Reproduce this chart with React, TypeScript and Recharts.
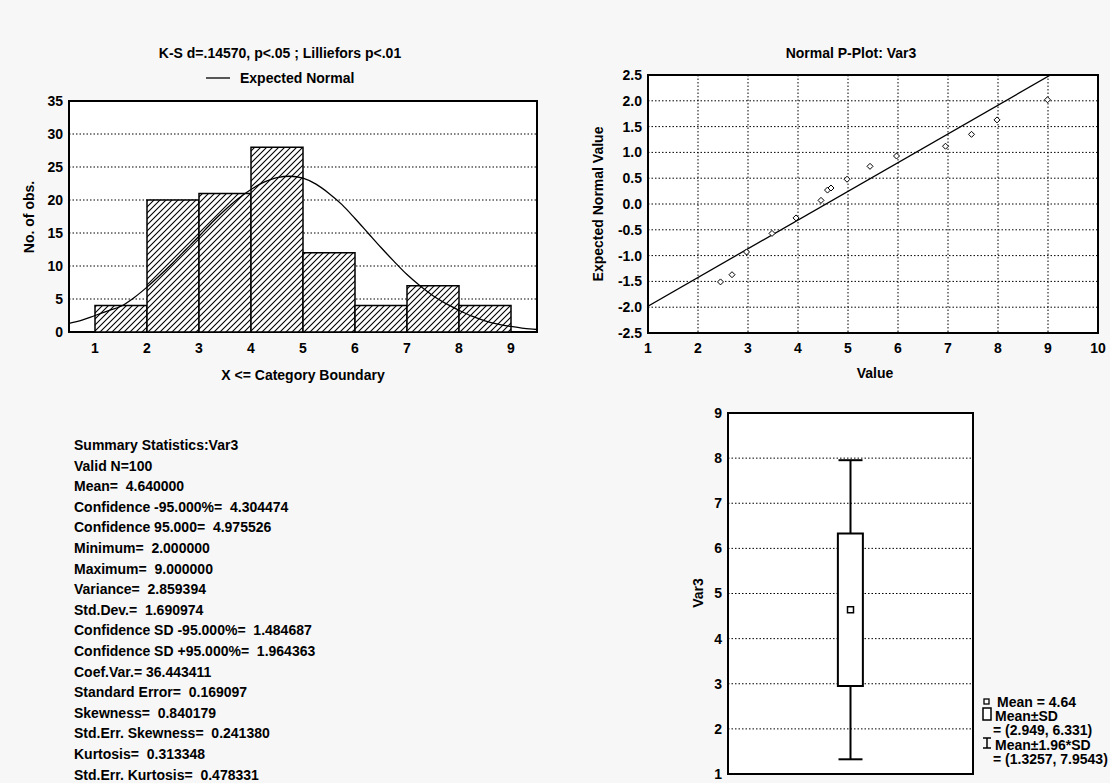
import React from "react";
import {
  ComposedChart,
  Bar,
  Line,
  Scatter,
  XAxis,
  YAxis,
  CartesianGrid,
  ReferenceArea,
  ErrorBar,
} from "recharts";

const FONT = '"Liberation Sans", Arial, sans-serif';

// histogram (bins of width 1, given by their centres)
const binCenters = [1.5, 2.5, 3.5, 4.5, 5.5, 6.5, 7.5, 8.5];
const binCounts = [4, 20, 21, 28, 12, 4, 7, 4];
const histTicksX = [1, 2, 3, 4, 5, 6, 7, 8, 9];
const histTicksY = [0, 5, 10, 15, 20, 25, 30, 35];

// expected normal curve
const curveX = [
  0.5, 0.75, 1, 1.25, 1.5, 1.75, 2, 2.25, 2.5, 2.75, 3, 3.25, 3.5, 3.75, 4,
  4.25, 4.5, 4.75, 5, 5.25, 5.5, 5.75, 6, 6.25, 6.5, 6.75, 7, 7.25, 7.5, 7.75,
  8, 8.25, 8.5, 8.75, 9, 9.25, 9.5,
];
const curveY = [
  1.3, 1.8, 2.5, 3.2, 3.9, 5.2, 6.8, 8.6, 10.5, 12.5, 14.5, 16.6, 18.5, 20.2,
  21.6, 22.7, 23.4, 23.6, 23.3, 22.4, 21.0, 19.3, 17.2, 15.0, 12.8, 10.7, 8.7,
  7.0, 5.5, 4.3, 3.3, 2.4, 1.7, 1.2, 0.85, 0.55, 0.38,
];

// normal probability plot
const ppValues = [2.45, 2.68, 2.97, 3.48, 3.96, 4.46, 4.59, 4.66, 4.98, 5.44, 5.97, 6.95, 7.47, 7.98, 8.99];
const ppExpected = [-1.51, -1.37, -0.93, -0.57, -0.27, 0.07, 0.27, 0.31, 0.48, 0.73, 0.93, 1.12, 1.35, 1.63, 2.02];
const ppLineX = [1, 9.05];
const ppLineY = [-1.98, 2.5];
const ppTicksX = [1, 2, 3, 4, 5, 6, 7, 8, 9, 10];
const ppTicksY = [-2.5, -2, -1.5, -1, -0.5, 0, 0.5, 1, 1.5, 2, 2.5];

// box plot
const boxSlots = [1, 2, 3];
const boxMean = 4.64;
const boxSd = [2.949, 6.331];
const boxWhisker = [1.3257, 7.9543];
const boxTicksY = [1, 2, 3, 4, 5, 6, 7, 8, 9];

const statLines = [
  "Summary Statistics:Var3",
  "Valid N=100",
  "Mean=  4.640000",
  "Confidence -95.000%=  4.304474",
  "Confidence 95.000=  4.975526",
  "Minimum=  2.000000",
  "Maximum=  9.000000",
  "Variance=  2.859394",
  "Std.Dev.=  1.690974",
  "Confidence SD -95.000%=  1.484687",
  "Confidence SD +95.000%=  1.964363",
  "Coef.Var.= 36.443411",
  "Standard Error=  0.169097",
  "Skewness=  0.840179",
  "Std.Err. Skewness=  0.241380",
  "Kurtosis=  0.313348",
  "Std.Err. Kurtosis=  0.478331",
];

const histData = binCenters.map((x, i) => ({ x, count: binCounts[i] }));
const curveData = curveX.map((x, i) => ({ x, y: curveY[i] }));
const ppData = ppValues.map((x, i) => ({ x, y: ppExpected[i] }));
const ppLine = ppLineX.map((x, i) => ({ x, y: ppLineY[i] }));
const boxData = boxSlots.map((x) =>
  x === 2 ? { x, box: boxSd } : { x, box: null }
);
const meanData = [
  {
    x: 2,
    mean: boxMean,
    err: [boxMean - boxWhisker[0], boxWhisker[1] - boxMean],
  },
];

const tickStyle = { fontFamily: FONT, fontSize: 14, fontWeight: "bold", fill: "#000" };
const gridDash = "1.5 2";

function Txt({ x, y, align = "left", rot = false, children }: any) {
  let transform = "translateY(-50%)";
  if (align === "center") transform = "translate(-50%,-50%)";
  if (rot) transform = "translate(-50%,-50%) rotate(-90deg)";
  return (
    <div
      style={{
        position: "absolute",
        left: x,
        top: y,
        transform,
        whiteSpace: "pre",
        fontFamily: FONT,
        fontSize: 14,
        fontWeight: "bold",
        lineHeight: "14px",
        color: "#000",
      }}
    >
      {children}
    </div>
  );
}

const Diamond = (props: any) => {
  const { cx, cy } = props;
  if (cx == null || cy == null) return <g />;
  return (
    <polygon
      points={`${cx},${cy - 3} ${cx + 3},${cy} ${cx},${cy + 3} ${cx - 3},${cy}`}
      fill="#fff"
      stroke="#000"
      strokeWidth={1}
    />
  );
};

const NoShape = () => <g />;

const MeanSquare = (props: any) => {
  const { cx, cy } = props;
  if (cx == null || cy == null) return <g />;
  return <rect x={cx - 3} y={cy - 3} width={6} height={6} fill="#fff" stroke="#000" strokeWidth={1.5} />;
};

function Histogram() {
  return (
    <div style={{ position: "absolute", left: 0, top: 0 }}>
      <ComposedChart
        width={560}
        height={400}
        data={histData}
        margin={{ top: 101, right: 23, bottom: 38, left: 0 }}
        barCategoryGap={0}
        barGap={0}
      >
        <defs>
          <pattern id="hatch" patternUnits="userSpaceOnUse" width="6" height="6">
            <rect width="6" height="6" fill="#fff" />
            <path d="M0,6 L6,0 M-1.5,1.5 L1.5,-1.5 M4.5,7.5 L7.5,4.5" stroke="#000" strokeWidth="1.1" />
          </pattern>
        </defs>
        <CartesianGrid vertical={false} fill="#fff" stroke="#000" strokeDasharray={gridDash} />
        <XAxis
          dataKey="x"
          type="number"
          domain={[0.5, 9.5]}
          ticks={histTicksX}
          interval={0}
          allowDataOverflow
          axisLine={false}
          tickLine={false}
          tickSize={6}
          tickMargin={5}
          height={30}
          tick={tickStyle}
        />
        <XAxis
          xAxisId="top"
          orientation="top"
          dataKey="x"
          type="number"
          domain={[0.5, 9.5]}
          ticks={histTicksX}
          interval={0}
          allowDataOverflow
          axisLine={false}
          tick={false}
          tickSize={-4}
          tickLine={{ stroke: "#000", strokeWidth: 1.5 }}
          height={0}
        />
        <YAxis
          type="number"
          domain={[0, 35]}
          ticks={histTicksY}
          interval={0}
          allowDataOverflow
          axisLine={false}
          tickLine={false}
          tickSize={4}
          tickMargin={2}
          width={69}
          tick={tickStyle}
        />
        <Bar dataKey="count" fill="url(#hatch)" stroke="#000" strokeWidth={1.5} isAnimationActive={false} />
        <Line
          xAxisId="top"
          data={curveData}
          dataKey="y"
          type="monotone"
          stroke="#000"
          strokeWidth={1.3}
          dot={false}
          activeDot={false}
          isAnimationActive={false}
        />
        <ReferenceArea x1={0.5} x2={9.5} y1={0} y2={35} fill="none" stroke="#000" strokeWidth={2} />
      </ComposedChart>
      <Txt x={280} y={53} align="center">K-S d=.14570, p&lt;.05 ; Lilliefors p&lt;.01</Txt>
      <svg style={{ position: "absolute", left: 204, top: 72 }} width={28} height={12}>
        <line x1={2} y1={6} x2={26} y2={6} stroke="#000" strokeWidth={1.3} />
      </svg>
      <Txt x={240} y={78}>Expected Normal</Txt>
      <Txt x={29} y={217} rot>No. of obs.</Txt>
      <Txt x={303} y={375} align="center">X &lt;= Category Boundary</Txt>
    </div>
  );
}

function PPlot() {
  return (
    <div style={{ position: "absolute", left: 570, top: 0 }}>
      <ComposedChart width={540} height={400} data={ppData} margin={{ top: 75, right: 12, bottom: 37, left: 0 }}>
        <CartesianGrid fill="#fff" stroke="#000" strokeDasharray={gridDash} />
        <XAxis
          dataKey="x"
          type="number"
          domain={[1, 10]}
          ticks={ppTicksX}
          interval={0}
          allowDataOverflow
          axisLine={false}
          tickLine={false}
          tickSize={5}
          tickMargin={5}
          height={30}
          tick={tickStyle}
        />
        <YAxis
          type="number"
          domain={[-2.5, 2.5]}
          ticks={ppTicksY}
          interval={0}
          allowDataOverflow
          axisLine={false}
          tickLine={false}
          tickSize={4}
          tickMargin={2}
          width={78}
          tick={tickStyle}
          tickFormatter={(v: number) => v.toFixed(1)}
        />
        <Line
          data={ppLine}
          dataKey="y"
          type="linear"
          stroke="#000"
          strokeWidth={1.3}
          dot={false}
          activeDot={false}
          isAnimationActive={false}
        />
        <Scatter dataKey="y" shape={Diamond} isAnimationActive={false} />
        <ReferenceArea x1={1} x2={10} y1={-2.5} y2={2.5} fill="none" stroke="#000" strokeWidth={2} />
      </ComposedChart>
      <Txt x={281} y={53} align="center">Normal P-Plot: Var3</Txt>
      <Txt x={28} y={204} rot>Expected Normal Value</Txt>
      <Txt x={305} y={373} align="center">Value</Txt>
    </div>
  );
}

function BoxPlot() {
  return (
    <div style={{ position: "absolute", left: 680, top: 400 }}>
      <ComposedChart width={300} height={383} data={boxData} margin={{ top: 13, right: 7, bottom: 9, left: 0 }}>
        <CartesianGrid vertical={false} fill="#fff" stroke="#000" strokeDasharray={gridDash} />
        <XAxis
          dataKey="x"
          type="number"
          domain={[0, 4]}
          ticks={boxSlots}
          interval={0}
          allowDataOverflow
          axisLine={false}
          tick={false}
          tickSize={-5}
          tickLine={{ stroke: "#000", strokeWidth: 1.5 }}
          height={0}
        />
        <XAxis
          xAxisId="top"
          orientation="top"
          dataKey="x"
          type="number"
          domain={[0, 4]}
          ticks={boxSlots}
          interval={0}
          allowDataOverflow
          axisLine={false}
          tick={false}
          tickSize={-5}
          tickLine={{ stroke: "#000", strokeWidth: 1.5 }}
          height={0}
        />
        <YAxis
          type="number"
          domain={[1, 9]}
          ticks={boxTicksY}
          interval={0}
          allowDataOverflow
          axisLine={false}
          tickLine={false}
          tickSize={4}
          tickMargin={2}
          width={48}
          tick={tickStyle}
        />
        <Scatter data={meanData} dataKey="mean" shape={NoShape} isAnimationActive={false} zIndex={200}>
          <ErrorBar dataKey="err" direction="y" width={12} stroke="#000" strokeWidth={2} isAnimationActive={false} zIndex={200} />
        </Scatter>
        <Bar dataKey="box" barSize={25} fill="#fff" stroke="#000" strokeWidth={2} isAnimationActive={false} zIndex={650} />
        <Scatter data={meanData} dataKey="mean" shape={MeanSquare} isAnimationActive={false} zIndex={700} />
        <ReferenceArea x1={0} x2={4} y1={1} y2={9} fill="none" stroke="#000" strokeWidth={2} zIndex={800} />
      </ComposedChart>
      <Txt x={18} y={193} rot>Var3</Txt>
    </div>
  );
}

function BoxLegend() {
  return (
    <div style={{ position: "absolute", left: 0, top: 0 }}>
      <svg style={{ position: "absolute", left: 982, top: 696 }} width={12} height={70}>
        <rect x={2} y={3} width={5} height={5} fill="#fff" stroke="#000" strokeWidth={1.3} />
        <rect x={1} y={12} width={8} height={12} fill="#fff" stroke="#000" strokeWidth={1.5} />
        <line x1={5} y1={42} x2={5} y2={52} stroke="#000" strokeWidth={1.5} />
        <line x1={1} y1={42} x2={9} y2={42} stroke="#000" strokeWidth={1.5} />
        <line x1={1} y1={52} x2={9} y2={52} stroke="#000" strokeWidth={1.5} />
      </svg>
      <Txt x={997} y={702}>Mean = 4.64</Txt>
      <Txt x={995} y={716}>Mean±SD</Txt>
      <Txt x={993} y={730}>= (2.949, 6.331)</Txt>
      <Txt x={995} y={745}>Mean±1.96*SD</Txt>
      <Txt x={993} y={759}>= (1.3257, 7.9543)</Txt>
    </div>
  );
}

function Stats() {
  return (
    <div style={{ position: "absolute", left: 0, top: 0 }}>
      {statLines.map((s, i) => (
        <Txt key={s} x={74} y={445 + i * 20.6}>
          {s}
        </Txt>
      ))}
    </div>
  );
}

export default function App() {
  return (
    <div
      style={{
        position: "absolute",
        left: 0,
        top: 0,
        width: 1110,
        height: 783,
        background: "#f7f7f7",
        overflow: "hidden",
      }}
    >
      <Histogram />
      <PPlot />
      <BoxPlot />
      <BoxLegend />
      <Stats />
    </div>
  );
}
